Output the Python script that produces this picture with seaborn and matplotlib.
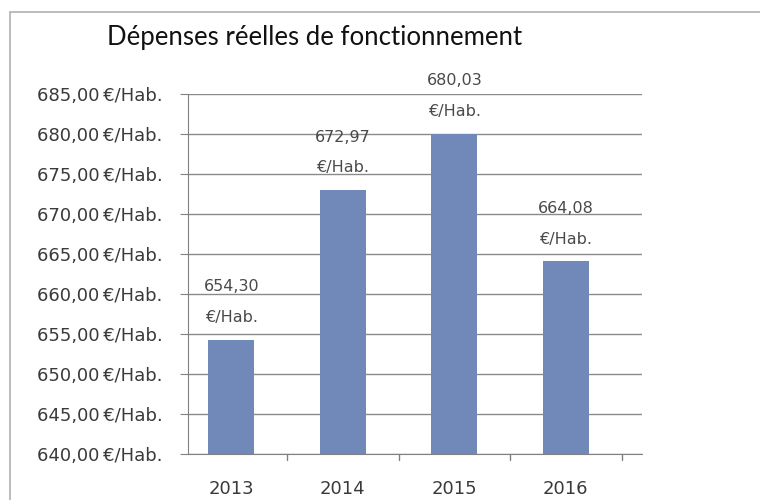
import matplotlib
matplotlib.use("Agg")
import matplotlib.pyplot as plt
import seaborn as sns
import pandas as pd
from matplotlib.patches import Rectangle

# Data
years = ["2013", "2014", "2015", "2016"]
values = [654.30, 672.97, 680.03, 664.08]
y_ticks = [640, 645, 650, 655, 660, 665, 670, 675, 680, 685]

df = pd.DataFrame({"annee": years, "depenses": values})


def fr(v, decimals=2):
    return f"{v:.{decimals}f}".replace(".", ",")


sns.set_style("white")
plt.rcParams["font.family"] = ["DejaVu Sans"]

fig = plt.figure(figsize=(7.6, 5.0), dpi=100)
ax = fig.add_axes([0.247, 0.092, 0.598, 0.72])

sns.barplot(data=df, x="annee", y="depenses", color="#7189B8",
            width=0.41, saturation=1, linewidth=0, ax=ax)

ax.set_ylim(640, 685)
ax.set_yticks(y_ticks)
ax.set_yticklabels([f"{fr(t)}\u2009€/Hab." for t in y_ticks],
                   fontsize=13, color="#3a3a3a")
ax.tick_params(axis="x", labelsize=13, colors="#3a3a3a", length=0, pad=19)
ax.tick_params(axis="y", length=6, color="#808080", left=True, pad=12)
ax.set_xlabel("")
ax.set_ylabel("")

ax.yaxis.grid(True, color="#8a8a8a", linewidth=1)
ax.set_axisbelow(True)
for s in ["top", "right"]:
    ax.spines[s].set_visible(False)
ax.spines["left"].set_color("#808080")
ax.spines["bottom"].set_color("#808080")

# small category separator ticks below x axis
for b in [0.5, 1.5, 2.5, 3.5]:
    ax.plot([b, b], [640, 639.2], color="#808080", lw=1, clip_on=False)

# data labels
for i, v in enumerate(values):
    ax.text(i, v + 1.85, f"{fr(v)}\n€/Hab.", ha="center", va="bottom",
            fontsize=11.5, color="#4a4a4a", linespacing=2.3)

fig.text(0.414, 0.926, "Dépenses réelles de fonctionnement", ha="center",
         va="center", fontsize=18.5, color="#111111", family=["Lato", "DejaVu Sans"])

# outer chart border
fig.patches.append(Rectangle((0.013, -0.05), 1.2, 1.026, transform=fig.transFigure,
                             fill=False, edgecolor="#b0b0b0", lw=1.2))

fig.savefig("out.png", dpi=100)
